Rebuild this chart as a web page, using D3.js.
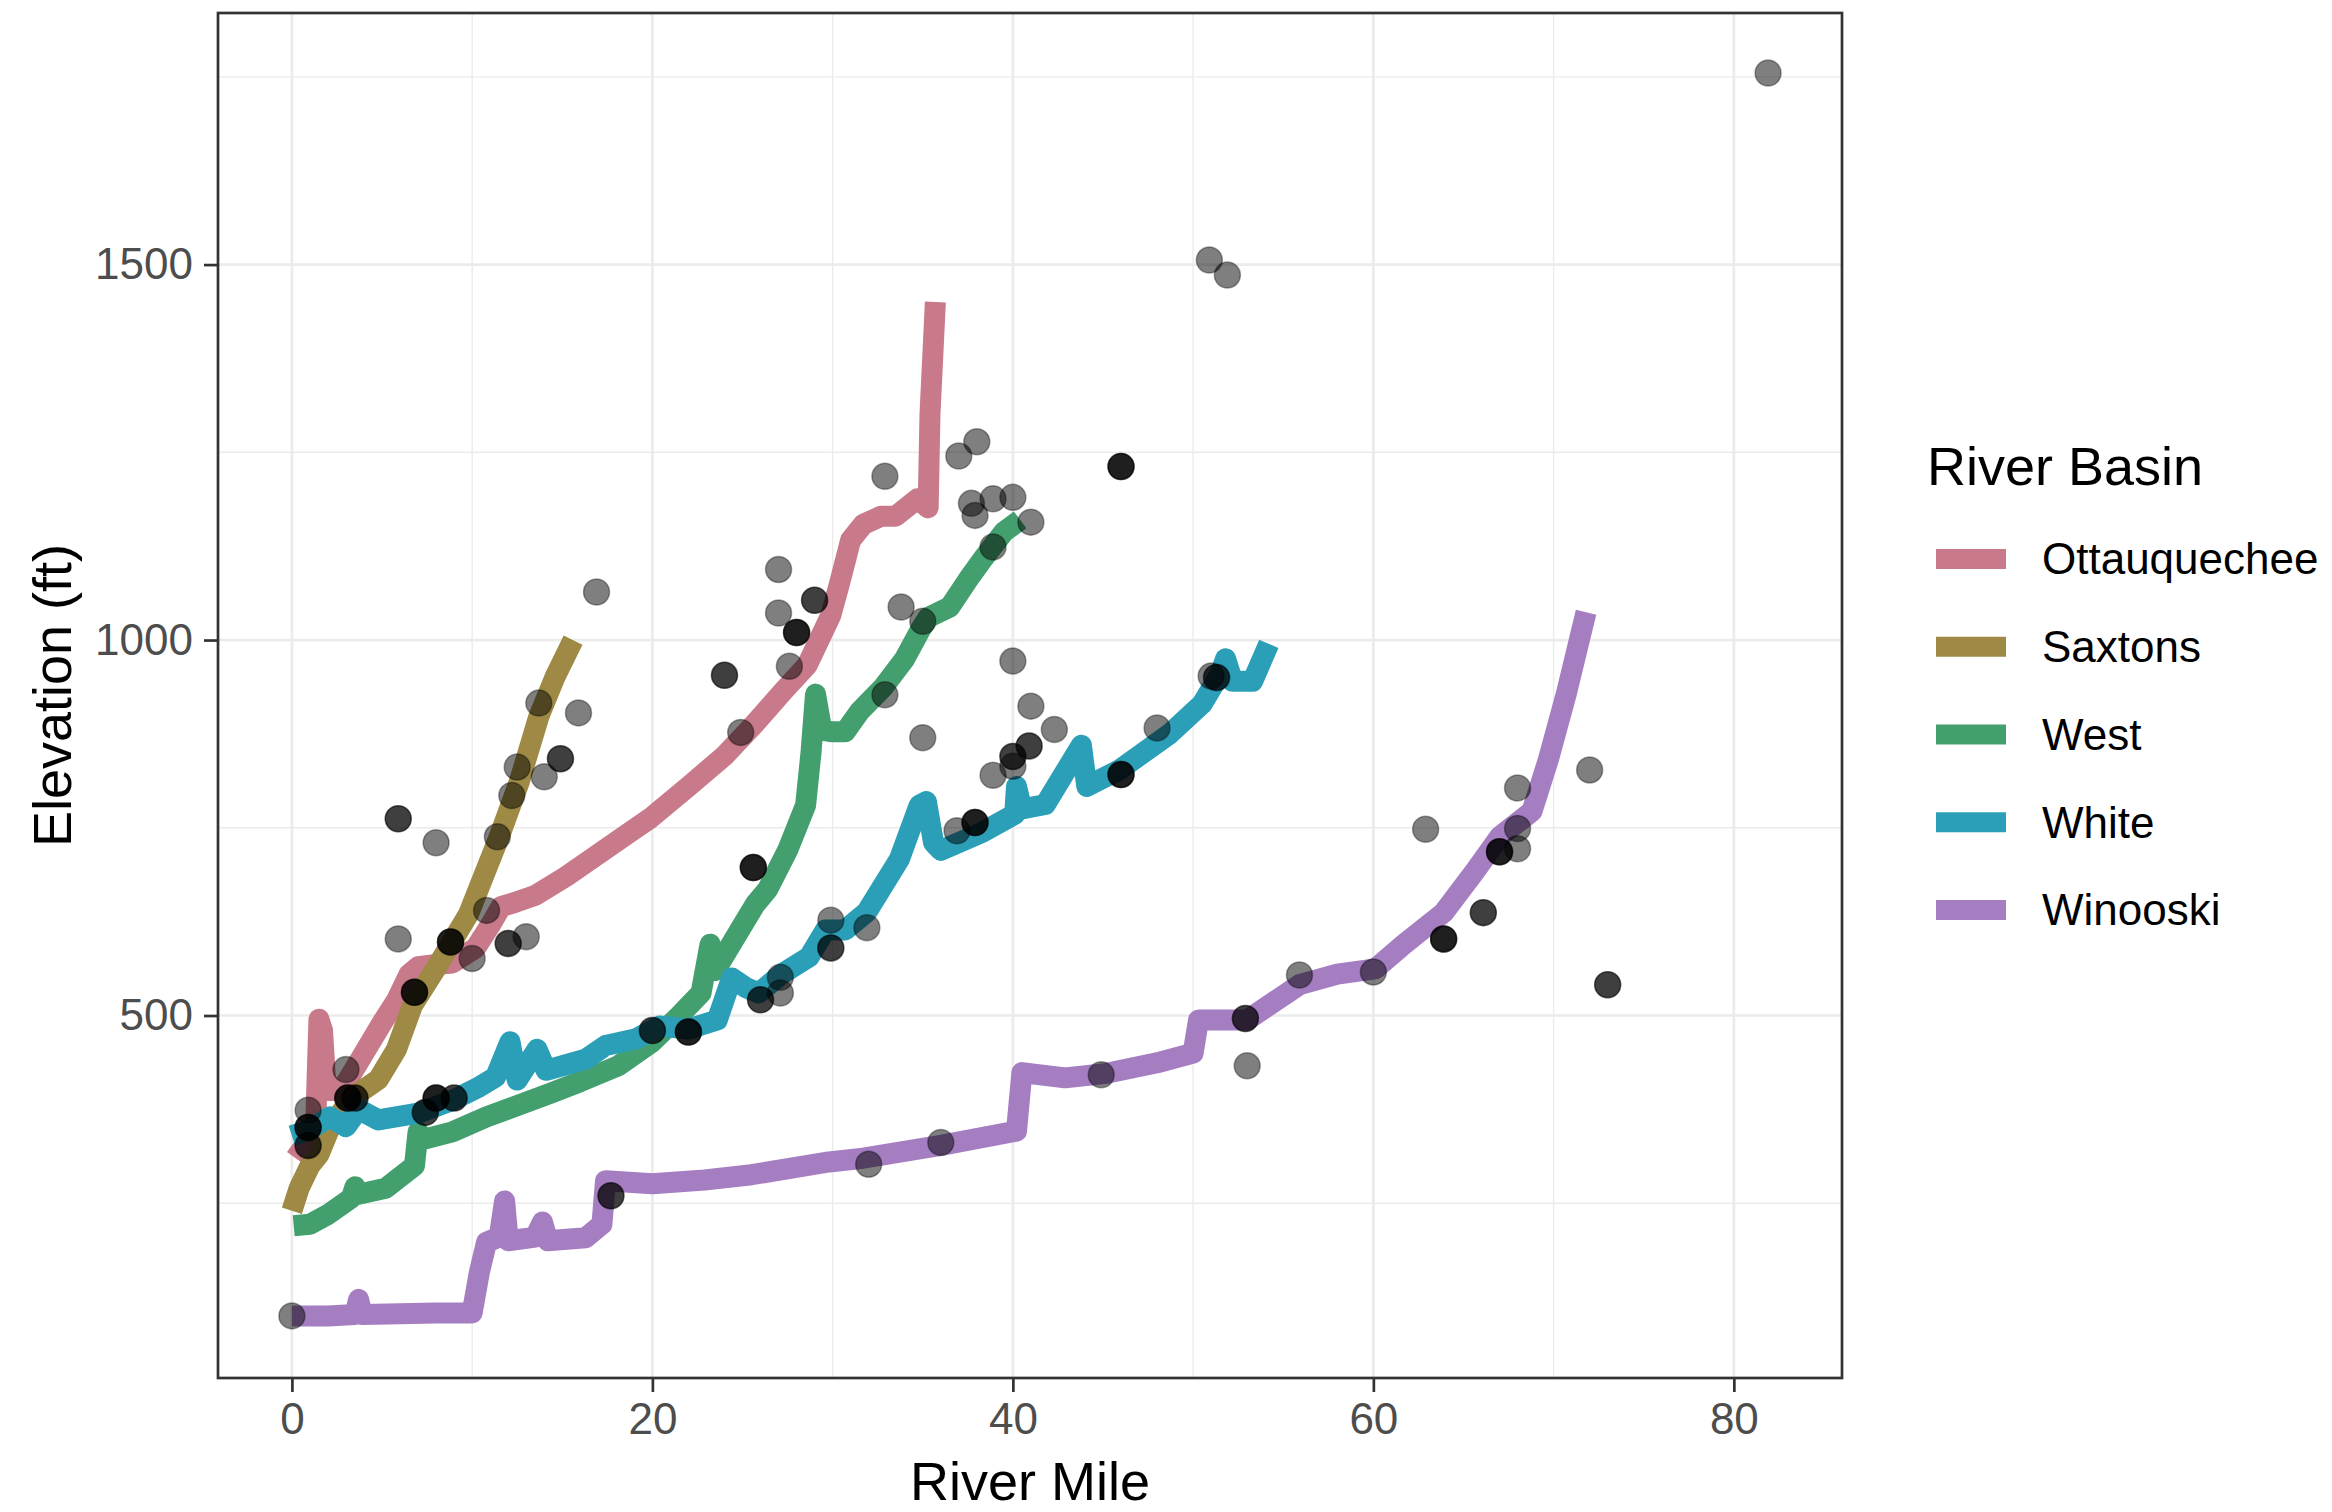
<!DOCTYPE html>
<html>
<head>
<meta charset="utf-8">
<script src="https://cdn.jsdelivr.net/npm/d3@7/dist/d3.min.js"></script>
<style>
  body { margin: 0; background: #ffffff; }
  text { font-family: "Liberation Sans", Arial, sans-serif; }
</style>
</head>
<body>
<div id="graph"></div>
<script>
//Size of the picture.
let w = 2332
let h = 1512

//Edges of the plot panel.
let panelLeft = 218
let panelRight = 1842
let panelTop = 13
let panelBottom = 1378

//Basins in legend order, with their colours.
let basins = ["Ottauquechee", "Saxtons", "West", "White", "Winooski"]
let basinColors = ["#c97a8a", "#9e8a45", "#43a06e", "#2b9fb7", "#a57ec2"]

//Axis ticks.
let xTicks = [0, 20, 40, 60, 80]
let xMinor = [10, 30, 50, 70]
let yTicks = [500, 1000, 1500]
let yMinor = [250, 750, 1250, 1750]

//River profiles, [river mile, elevation in ft].
let ottauquechee = [[0.2,310],[0.8,330],[1.3,340],[1.5,495],[1.7,480],[1.9,400],[2.5,400],[3.0,410],[4.0,450],[5.0,490],
  [5.8,520],[6.5,555],[7.0,565],[8.0,568],[8.9,570],[10.2,590],[11.0,620],[11.6,645],[12.3,650],[13.5,660],[15.2,685],
  [17,715],[18.5,740],[19.9,763],[21,785],[22.1,807],[24,846],[25.5,884],[27.3,933],[28.6,967],[29.9,1033],[30.4,1077],
  [31.0,1133],[31.7,1154],[32.7,1165],[33.5,1165],[34.7,1188],[35.3,1176],[35.4,1300],[35.7,1450]]

let saxtons = [[0,240],[0.4,270],[1,300],[1.5,315],[2.1,350],[3.3,390],[4.8,415],[5.8,455],[6.7,514],[8,563],[9.8,635],
  [11.5,738],[12.6,810],[13.7,898],[14.6,951],[15.6,1000]]

let west = [[0.1,220],[1,222],[2,235],[3.3,257],[3.5,272],[3.7,262],[5.2,270],[6.8,300],[7.0,345],[7.3,335],[8.9,345],
  [10.8,365],[12.5,380],[14.4,397],[16,412],[18.1,433],[20,465],[21.5,500],[22.7,530],[23.2,595],[23.5,560],[24.5,600],
  [25.7,648],[26.4,668],[27.5,720],[28.5,780],[28.8,850],[29.05,928],[29.4,880],[29.9,878],[30.7,878],[31.5,905],
  [32.8,937],[34,975],[34.9,1015],[35.3,1030],[36.5,1044],[37.5,1080],[38.4,1110],[39.5,1144],[40.4,1160]]

let white = [[0,340],[0.9,347],[2.1,365],[3.0,352],[3.7,375],[4.8,361],[7,370],[8.9,387],[10.4,405],[11.3,418],[12.1,465],
  [12.5,414],[13.6,455],[14.1,427],[16.3,442],[17.4,460],[19.1,469],[20.4,486],[22,482],[23.6,494],[24.4,550],[25.2,537],
  [25.9,530],[27.1,554],[28.7,578],[29.6,614],[30.7,614],[31.9,638],[33.7,708],[34.8,780],[35.2,785],[35.6,730],[36,720],
  [38.3,744],[40.1,768],[40.2,805],[40.5,775],[41.8,781],[43.8,860],[44.1,805],[45.9,827],[48.7,875],[50.5,915],
  [51.5,955],[51.8,975],[52.2,945],[53.3,945],[54.2,995]]

let winooski = [[0,100],[2,100],[3.5,102],[3.7,122],[3.9,102],[6,103],[8,104],[10,104],[10.4,158],[10.8,198],[11.5,205],
  [11.8,253],[12,200],[13.5,205],[13.9,225],[14.2,200],[16.3,204],[17.2,222],[17.4,280],[20,276],[22.9,281],[25.5,288],
  [29.8,305],[31.7,310],[36,327],[40.2,346],[40.5,424],[42.9,417],[45.2,423],[48,437],[50,450],[50.3,494],[53,494],
  [55.9,541],[58,555],[60.1,562],[61.7,595],[63.9,637],[65.6,691],[67,738],[68.8,772],[69.7,840],[70.7,928],[71.8,1037]]

let profiles = [ottauquechee, saxtons, west, white, winooski]

//Measured sites: river mile, elevation, and how many sites sit on the same spot.
let siteMile = [81.9,50.9,51.9,46.0,32.9,37.0,38.0,37.7,37.9,38.9,40.0,41.0,38.9,35.0,33.8,32.9,40.0,41.0,42.3,35.0,
  40.9,40.0,40.0,38.9,46.0,37.9,36.9,27.0,27.0,29.0,28.0,27.6,24.0,24.9,25.6,16.9,13.7,15.9,14.9,12.5,14.0,12.2,11.4,
  5.9,8.0,10.8,5.9,8.8,12.0,13.0,10.0,6.8,3.0,3.1,3.5,0.9,0.9,0.9,7.4,8.0,9.0,20.0,22.0,17.7,0,29.9,31.9,29.9,27.1,
  27.1,26.0,32.0,36.0,44.9,52.9,53.0,55.9,60.0,48.0,51.0,51.3,62.9,68.0,68.0,68.0,67.0,63.9,66.1,72.0,73.0]
let siteElev = [1755,1506,1486,1231,1218,1245,1264,1182,1166,1188,1190,1157,1124,1025,1044,927,972,912,881,870,
  859,845,832,820,821,757,746,1094,1036,1053,1010,965,953,877,697,1064,916,903,842,831,818,793,738,
  762,730,640,602,598,596,605,576,531,428,390,390,374,351,327,371,390,390,480,478,260,100,627,617,590,551,
  530,521,302,331,421,496,433,554,558,883,952,950,748,803,749,722,718,602,637,827,541]
let siteCount = [1,1,1,3,1,1,1,1,1,1,1,1,1,1,1,1,1,1,1,1,
  2,2,1,1,3,3,1,1,1,2,3,1,2,1,3,1,1,1,2,1,1,1,1,
  2,1,1,1,3,2,1,1,3,1,3,2,1,3,2,2,3,2,2,3,2,1,1,1,2,1,
  1,2,1,1,1,2,1,1,1,1,1,2,1,1,1,1,3,3,2,1,2]

//The svg everything is drawn in.
const svg = d3.select("#graph")
  .append("svg")
  .attr("width", w)
  .attr("height", h)

svg.append("rect").attr("width", w).attr("height", h).attr("fill", "#ffffff")

//Scales from data to pixels.
let xScale = d3.scaleLinear().domain([-4.1, 86.0]).range([panelLeft, panelRight])
let yScale = d3.scaleLinear().domain([17.3, 1835]).range([panelBottom, panelTop])

//Grid lines, minor first then major.
const grid = svg.append("g")
grid.selectAll(".xminor").data(xMinor).enter().append("line")
  .attr("x1", d => xScale(d)).attr("x2", d => xScale(d))
  .attr("y1", panelTop).attr("y2", panelBottom)
  .attr("stroke", "#ebebeb").attr("stroke-width", 1.4)
grid.selectAll(".yminor").data(yMinor).enter().append("line")
  .attr("y1", d => yScale(d)).attr("y2", d => yScale(d))
  .attr("x1", panelLeft).attr("x2", panelRight)
  .attr("stroke", "#ebebeb").attr("stroke-width", 1.4)
grid.selectAll(".xmajor").data(xTicks).enter().append("line")
  .attr("x1", d => xScale(d)).attr("x2", d => xScale(d))
  .attr("y1", panelTop).attr("y2", panelBottom)
  .attr("stroke", "#ebebeb").attr("stroke-width", 2.7)
grid.selectAll(".ymajor").data(yTicks).enter().append("line")
  .attr("y1", d => yScale(d)).attr("y2", d => yScale(d))
  .attr("x1", panelLeft).attr("x2", panelRight)
  .attr("stroke", "#ebebeb").attr("stroke-width", 2.7)

//River profile lines.
let line = d3.line()
  .x(d => xScale(d[0]))
  .y(d => yScale(d[1]))

svg.append("g").selectAll("path")
  .data(profiles)
  .enter()
  .append("path")
  .attr("d", line)
  .attr("fill", "none")
  .attr("stroke", (d, i) => basinColors[i])
  .attr("stroke-width", 21)
  .attr("stroke-linejoin", "round")
  .attr("stroke-linecap", "butt")

//Sites, one circle for each site so stacked sites look darker.
let sites = []
siteMile.forEach((m, i) => {
  for (let k = 0; k < siteCount[i]; k++) sites.push([m, siteElev[i]])
})

svg.append("g").selectAll("circle")
  .data(sites)
  .enter()
  .append("circle")
  .attr("cx", d => xScale(d[0]))
  .attr("cy", d => yScale(d[1]))
  .attr("r", 13)
  .attr("fill", "#000000")
  .attr("fill-opacity", 0.5)
  .attr("stroke", "#000000")
  .attr("stroke-opacity", 0.35)
  .attr("stroke-width", 1.5)

//Panel border.
svg.append("rect")
  .attr("x", panelLeft).attr("y", panelTop)
  .attr("width", panelRight - panelLeft).attr("height", panelBottom - panelTop)
  .attr("fill", "none").attr("stroke", "#333333").attr("stroke-width", 2.7)

//Axes.
let xAxis = d3.axisBottom(xScale).tickValues(xTicks).tickSize(14).tickPadding(11)
let yAxis = d3.axisLeft(yScale).tickValues(yTicks).tickSize(14).tickPadding(11)
  .tickFormat(d3.format("d"))

const gx = svg.append("g").attr("transform", "translate(0," + panelBottom + ")").call(xAxis)
const gy = svg.append("g").attr("transform", "translate(" + panelLeft + ",0)").call(yAxis)

;[gx, gy].forEach(g => {
  g.select(".domain").remove()
  g.selectAll("line").attr("stroke", "#333333").attr("stroke-width", 2.7)
  g.selectAll("text").attr("font-size", 44).attr("fill", "#4d4d4d")
    .attr("font-family", "'Liberation Sans', Arial, sans-serif")
})

//Axis titles.
svg.append("text")
  .attr("x", (panelLeft + panelRight) / 2)
  .attr("y", 1500)
  .attr("text-anchor", "middle")
  .attr("font-size", 54)
  .attr("fill", "#000000")
  .text("River Mile")

svg.append("text")
  .attr("transform", "translate(71," + (panelTop + panelBottom) / 2 + ") rotate(-90)")
  .attr("text-anchor", "middle")
  .attr("font-size", 54)
  .attr("fill", "#000000")
  .text("Elevation (ft)")

//Legend.
const legend = svg.append("g")

legend.append("text")
  .attr("x", 1927)
  .attr("y", 485)
  .attr("font-size", 54)
  .attr("fill", "#000000")
  .text("River Basin")

let keyY = d3.scalePoint().domain(basins).range([559, 910])

legend.selectAll("line")
  .data(basins)
  .enter()
  .append("line")
  .attr("x1", 1936).attr("x2", 2006)
  .attr("y1", d => keyY(d)).attr("y2", d => keyY(d))
  .attr("stroke", (d, i) => basinColors[i])
  .attr("stroke-width", 20)

legend.selectAll(".label")
  .data(basins)
  .enter()
  .append("text")
  .attr("x", 2042)
  .attr("y", d => keyY(d))
  .attr("dy", "0.35em")
  .attr("font-size", 44)
  .attr("fill", "#000000")
  .text(d => d)
</script>
</body>
</html>
